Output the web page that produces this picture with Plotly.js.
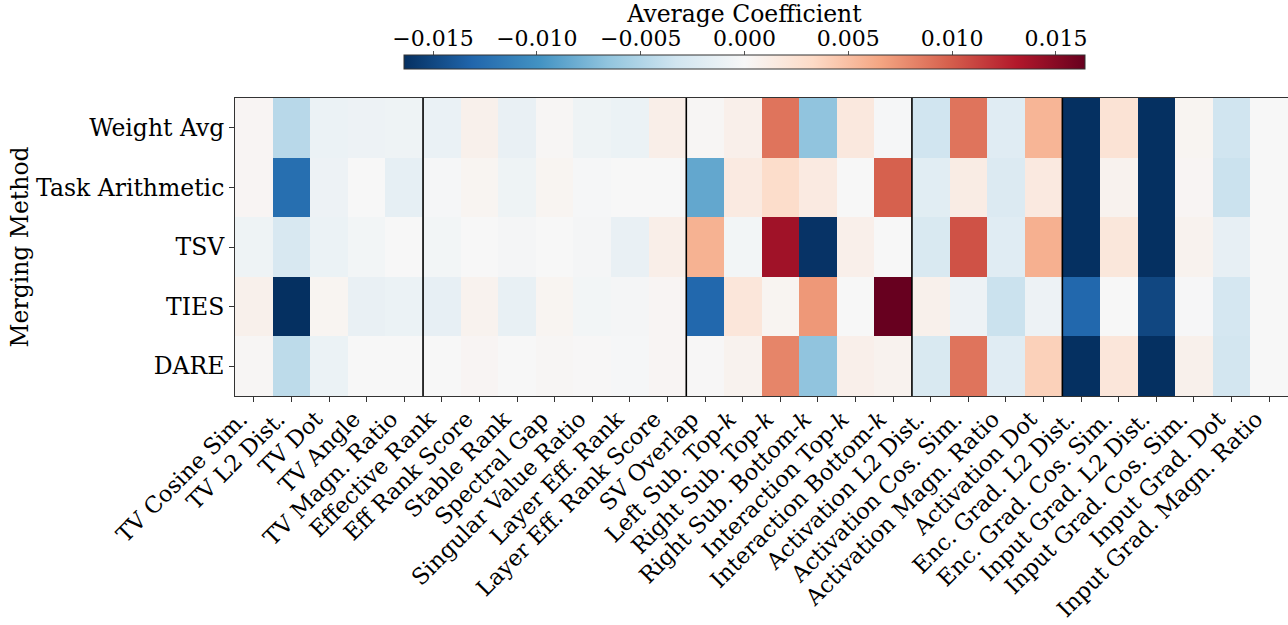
<!DOCTYPE html>
<html>
<head>
<meta charset="utf-8">
<script src="https://cdn.plot.ly/plotly-3.0.1.min.js"></script>
<style>html,body{margin:0;padding:0;background:#fff;}#chart{width:1288px;height:625px;}</style>
</head>
<body>
<div id="chart"></div>
<script>
const metrics = ["TV Cosine Sim.","TV L2 Dist.","TV Dot","TV Angle","TV Magn. Ratio","Effective Rank","Eff Rank Score","Stable Rank","Spectral Gap","Singular Value Ratio","Layer Eff. Rank","Layer Eff. Rank Score","SV Overlap","Left Sub. Top-<i>k</i>","Right Sub. Top-<i>k</i>","Right Sub. Bottom-<i>k</i>","Interaction Top-<i>k</i>","Interaction Bottom-<i>k</i>","Activation L2 Dist.","Activation Cos. Sim.","Activation Magn. Ratio","Activation Dot","Enc. Grad. L2 Dist.","Enc. Grad. Cos. Sim.","Input Grad. L2 Dist.","Input Grad. Cos. Sim.","Input Grad. Dot","Input Grad. Magn. Ratio"];
const methods = ["Weight Avg","Task Arithmetic","TSV","TIES","DARE"];

const weightAvg = [0.0003,-0.0046,-0.0010,-0.0009,-0.0008,-0.0011,0.0008,-0.0012,0.0002,-0.0008,-0.0010,0.0010,0.0002,0.0009,0.0089,-0.0066,0.0017,-0.0002,-0.0033,0.0089,-0.0020,0.0056,-0.0170,0.0023,-0.0170,0.0004,-0.0033,0.0000];
const taskArithmetic = [0.0003,-0.0125,-0.0009,0.0000,-0.0015,-0.0002,0.0004,-0.0008,0.0004,-0.0002,0.0000,0.0000,-0.0085,0.0015,0.0030,0.0015,0.0000,0.0098,-0.0019,0.0013,-0.0023,0.0016,-0.0170,0.0006,-0.0170,0.0003,-0.0036,0.0000];
const tsv = [-0.0008,-0.0027,-0.0010,-0.0004,0.0000,-0.0004,0.0000,-0.0003,0.0000,-0.0003,-0.0012,0.0010,0.0058,-0.0004,0.0139,-0.0162,0.0009,0.0000,-0.0026,0.0105,-0.0020,0.0059,-0.0170,0.0019,-0.0170,0.0006,-0.0014,0.0000];
const ties = [0.0008,-0.0170,0.0004,-0.0012,-0.0010,-0.0014,0.0006,-0.0013,0.0004,-0.0004,-0.0003,0.0003,-0.0130,0.0020,0.0004,0.0072,0.0000,0.0170,0.0008,-0.0009,-0.0036,-0.0009,-0.0130,0.0000,-0.0150,-0.0001,-0.0029,0.0000];
const dare = [0.0002,-0.0043,-0.0010,0.0000,0.0000,0.0000,0.0003,0.0000,0.0002,0.0001,-0.0002,0.0003,0.0001,0.0006,0.0081,-0.0066,0.0009,0.0006,-0.0026,0.0089,-0.0020,0.0039,-0.0170,0.0020,-0.0170,0.0008,-0.0031,0.0000];

const colorbarTicks = [-0.015,-0.010,-0.005,0.000,0.005,0.010,0.015];
const colorRange = [-0.0164, 0.0164];
const groupBoundaries = [4.5, 11.5, 17.5, 21.5];

const z = [weightAvg, taskArithmetic, tsv, ties, dare];
const xIdx = metrics.map((_, i) => i);

const rdbu = ["#053061","#2166ac","#4393c3","#92c5de","#d1e5f0","#f7f7f7","#fddbc7","#f4a582","#d6604d","#b2182b","#67001f"];
const colorscale = rdbu.map((c, i) => [i / (rdbu.length - 1), c]);

const fam = "DejaVu Serif, serif";
const fontY = {family: fam, size: 23.5, color: "#000"};
const fontX = {family: fam, size: 22.5, color: "#000"};
const fontCb = {family: fam, size: 22, color: "#000"};

// paper: x 235..1288, y 0..396
const cbBottom = (396 - 70) / 396, cbTop = (396 - 56) / 396;
const cbLeft = (404 - 235) / 1053, cbRight = (1085 - 235) / 1053;

const heat = {
  type: "heatmap",
  x: xIdx, y: methods, z: z,
  zmin: colorRange[0], zmax: colorRange[1],
  colorscale: colorscale,
  hoverinfo: "skip",
  colorbar: {
    orientation: "h",
    x: (cbLeft + cbRight) / 2, xanchor: "center",
    y: cbBottom, yanchor: "bottom",
    len: 681, lenmode: "pixels",
    thickness: 14, xpad: 0, ypad: 0,
    outlinewidth: 1, outlinecolor: "#333",
    ticks: "", showticklabels: false
  }
};

const cbAxisCarrier = {
  type: "scatter", mode: "markers", x: colorRange, y: [0.5, 0.5],
  xaxis: "x2", yaxis: "y2", marker: {opacity: 0}, hoverinfo: "skip", showlegend: false
};

const shapes = groupBoundaries.map(b => ({
  type: "line", xref: "x", yref: "paper", x0: b, x1: b, y0: 0, y1: 298 / 396,
  line: {color: "#000", width: 1.6}
}));

const layout = {
  width: 1288, height: 625,
  margin: {l: 235, r: 0, t: 0, b: 229},
  paper_bgcolor: "#fff", plot_bgcolor: "#fff",
  font: fontY,
  showlegend: false,
  xaxis: {
    tickvals: xIdx, ticktext: metrics, tickangle: -45,
    ticks: "outside", ticklen: 5, tickcolor: "#333",
    ticklabelshift: -13, ticklabelstandoff: -5,
    showline: true, linecolor: "#333", linewidth: 1, mirror: true,
    showgrid: false, zeroline: false, range: [-0.5, 27.5],
    tickfont: fontX, anchor: "y"
  },
  yaxis: {
    domain: [0, 298 / 396],
    autorange: "reversed",
    ticks: "outside", ticklen: 5, tickcolor: "#333",
    showline: true, linecolor: "#333", linewidth: 1, mirror: true,
    showgrid: false, zeroline: false,
    tickfont: fontY,
    title: {text: "Merging Method", font: fontY, standoff: 0}
  },
  xaxis2: {
    domain: [cbLeft, cbRight], anchor: "y2", side: "top",
    range: colorRange, tickvals: colorbarTicks, tickformat: ".3f",
    ticks: "outside", ticklen: 4, tickcolor: "#555",
    ticklabelstandoff: -4,
    showline: false, showgrid: false, zeroline: false,
    tickfont: fontCb,
    title: {text: "Average Coefficient", font: fontY, standoff: 0}
  },
  yaxis2: {domain: [cbBottom, cbTop], range: [0, 1], visible: false, fixedrange: true},
  shapes: shapes
};

Plotly.newPlot("chart", [heat, cbAxisCarrier], layout, {displayModeBar: false, staticPlot: true});
</script>
</body>
</html>
